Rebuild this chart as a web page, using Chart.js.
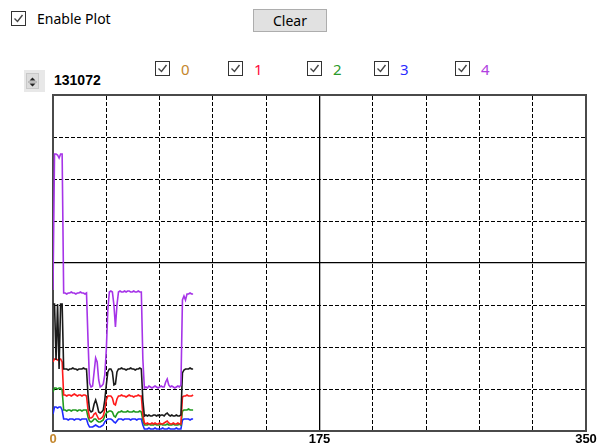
<!DOCTYPE html>
<html>
<head>
<meta charset="utf-8">
<title>Plot</title>
<script src="https://cdn.jsdelivr.net/npm/chart.js@4.4.1/dist/chart.umd.min.js"></script>
<style>
  html, body { margin: 0; padding: 0; background: #fff; }
  body { width: 600px; height: 447px; position: relative; overflow: hidden;
         font-family: 'Noto Sans', sans-serif; font-size: 14px; color: #000; }
  .cb { position: absolute; width: 13px; height: 13px; border: 1px solid #333; background: #fff; }
  .cb svg { position: absolute; left: 0; top: 0; }
  .lbl { position: absolute; line-height: 16px; white-space: nowrap; }
  .btn { position: absolute; box-sizing: border-box; background: #e1e1e1; border: 1px solid #adadad;
         text-align: center; line-height: 21px; }
  #spin { position: absolute; left: 24px; top: 70px; width: 21px; height: 22px; background: #e8e8e8; }
  #spin .b { position: absolute; left: 2px; top: 3px; width: 13px; height: 16px; background: #dcdcdc; border: 1px solid #c8c8c8; box-sizing: border-box; }
  #range { position: absolute; left: 54px; top: 72px; font: bold 14px 'Liberation Sans', Arial, sans-serif; }
  #plot { position: absolute; left: 0; top: 0; }
</style>
</head>
<body>
<div class="cb" style="left:11px;top:11px"></div>
<div class="lbl" style="left:37px;top:11px">Enable Plot</div>
<div class="btn" style="left:253px;top:9px;width:74px;height:23px">Clear</div>
<div id="spin"><div class="b">
  <svg width="11" height="14"><path d="M2.5 5.5 L5.5 2.5 L8.5 5.5 Z M2.5 8.5 L5.5 11.5 L8.5 8.5 Z" fill="#222"/><line x1="1" y1="7" x2="10" y2="7" stroke="#999"/></svg>
</div></div>
<div id="range">131072</div>
<div id="legend"></div>
<canvas id="plot" width="600" height="447"></canvas>

<script>
  // numéros d'échantillon (axe x)
  const sampleIdx = Array.from({ length: 93 }, (_, i) => i);
  const seriesNames = ['0', '1', '2', '3', '4'];
  const xTicks = [0, 175, 350];
  const yFull = 131072;

  // valeurs
  const ch0 = [49540, 49540, 27700, 49540, 24190, 49540, 49540, 24190,
    24190, 24190, 23800, 24190, 24190, 24580, 24190, 24190, 23800, 24190, 24190, 24190, 24580, 24190, 24190,
    14040, 8190, 7410, 7800, 10530, 12090, 10140, 7410, 7020, 7410, 8190, 12090, 17950, 23020, 24190, 24190, 23020, 17950, 18340, 23020, 24190,
    24190, 24580, 24190, 24190, 23800, 24190, 24190, 24580, 24190, 24190, 23800, 24190, 24190, 24580, 24190,
    12090, 5850,
    6240, 5850, 6240, 5850, 5850, 6240, 6240, 5850, 6240, 5850, 6240, 6240, 5850,
    6630, 7020, 6240,
    5850, 6240, 5850, 5850, 6240, 5850, 5850,
    6240, 22630, 23800, 24190,
    24190, 24190, 24580, 24190, 24190];
  const ch1 = [26920, 28090, 28090, 27700, 28090, 28090, 26920, 14040,
    14040, 13650, 14040, 14040, 13650, 14040, 14430, 14040, 13650, 14040, 14040, 13650, 14040, 14040, 13650,
    8190, 5070, 5070, 5460, 6630, 7020, 5850, 4680, 4680, 5070, 5850, 8190, 12090, 13650, 13650, 13650, 12870, 10530, 10140, 12480, 13650,
    13650, 14040, 13650, 13650, 13260, 13650, 14040, 13650, 13650, 13260, 13650, 13650, 14040, 13650, 13650,
    6240, 3120,
    2730, 3120, 2730, 2730, 3120, 2730, 3120, 2730, 2730, 3120, 2730, 2730, 3120,
    3510, 3900, 3120,
    2730, 2730, 3120, 2730, 2730, 3120, 2730, 2730,
    13260, 13650,
    13650, 14040, 13650, 13650, 13650, 14040];
  const ch2 = [15210, 16770, 16770, 16380, 16770, 16770, 15990, 8190,
    8190, 7800, 8190, 8190, 7800, 8190, 8190, 8190, 7800, 8190, 8190, 7800, 8190, 8190, 8190,
    5460, 3900, 3510, 3900, 4680, 4680, 3900, 3510, 3510, 3900, 4290, 5850, 7020, 7410, 7800, 7800, 7410, 5850, 5460, 6630, 7410,
    7410, 7800, 7410, 7410, 7410, 7800, 7410, 7410, 7410, 7800, 7410, 7410, 7410, 7800, 7410,
    4290, 2340,
    2340, 2340, 2730, 2340, 2340, 2340, 2730, 2340, 2340, 2340, 2730, 2340, 2340, 2340, 2730, 2340, 2340, 2340, 2730, 2340, 2340, 2340, 2730, 2340,
    7800, 8190,
    8190, 8190, 8580, 8190, 8190, 8190];
  const ch3 = [6630, 9360, 9360, 8970, 9360, 9360, 8190, 4680,
    4680, 4680, 4290, 4680, 4680, 4680, 4290, 4680, 4680, 4680, 4290, 4680, 4680, 4680, 4680,
    2730, 1560, 1560, 1560, 1950, 2340, 1950, 1560, 1560, 1950, 2340, 3510, 4290, 4680, 4680, 4680, 4290, 3510, 3120, 3900, 4680,
    4680, 4680, 4290, 4680, 4680, 4680, 4680, 4290, 4680, 4680, 4680, 4290, 4680, 4680, 4680,
    2340, 780,
    780, 780, 1170, 780, 780, 780, 1170, 780, 780, 780, 780, 1170, 780, 780, 780, 1170, 780, 780, 780, 780, 1170, 780, 780, 780,
    4290, 4680,
    4680, 4680, 4680, 4290, 4680, 4680];
  const ch4 = [55000, 108060, 108060, 107670, 106500, 108060, 108060, 53830,
    53830, 53440, 53830, 53830, 54220, 53830, 53830, 53440, 53830, 53830, 54220, 53830, 53830, 53440, 53830,
    35500, 18730, 17160, 17560, 23020, 28480, 26920, 19900, 17160, 17560, 18340, 21850, 31600, 47200, 54220, 54610, 54220, 49150, 40570, 49150, 54220,
    54610, 54220, 54220, 54610, 54220, 54610, 54610, 54220, 54220, 54610, 54220, 54220, 54610, 54220, 54220,
    28090, 16770,
    17160, 16770, 17560, 17160, 16770, 17160, 17560, 17160, 16770, 17160, 17560, 17160, 17160,
    19120, 20290, 17950,
    17160, 17560, 17160, 16770, 17160, 17560, 17160,
    17950, 51100, 52660, 51100, 53440, 53440, 53830, 53440, 53440];

  const lineColors = ['#1a1a1a', '#ff1a1a', '#1f9a1f', '#1f2bff', '#a634e8'];
  const labelColors = ['#c4862c', '#ff0a3c', '#2a9a2a', '#2b2bff', '#b040e0'];
  const legendLeft = [155, 228, 307, 374, 455];

  const checkSvg = '<svg width="13" height="13"><polyline points="2.5,6.5 5.5,9.5 10.5,3" fill="none" stroke="#444" stroke-width="1.4"/></svg>';
  document.querySelectorAll('.cb').forEach(el => { el.innerHTML = checkSvg; });

  // cases à cocher des voies
  const legend = document.getElementById('legend');
  seriesNames.forEach((name, i) => {
    legend.innerHTML += `
      <div class="cb" style="left:${legendLeft[i]}px;top:61px">${checkSvg}</div>
      <div class="lbl" style="left:${legendLeft[i] + 26}px;top:61px;font-size:15px;color:${labelColors[i]}">${name}</div>
    `;
  });

  const allSeries = [ch0, ch1, ch2, ch3, ch4];
  const ctx = document.getElementById('plot');

  new Chart(ctx, {
    type: 'line',
    data: {
      labels: sampleIdx,
      datasets: allSeries.map((values, i) => ({
        label: seriesNames[i],
        data: values,
        borderColor: lineColors[i],
        borderWidth: 1.6,
        pointRadius: 0,
        tension: 0,
        fill: false,
        xAxisID: 'x',
        yAxisID: 'y',
        order: i === 4 ? 0 : i + 1
      }))
    },
    options: {
      responsive: false,
      animation: false,
      layout: { padding: { left: 53, right: 14, top: 95, bottom: 0 } },
      plugins: {
        legend: { display: false },
        tooltip: { enabled: false }
      },
      scales: {
        x: {
          type: 'linear',
          position: 'bottom',
          min: 0,
          max: 350,
          afterBuildTicks: scale => { scale.ticks = xTicks.map(v => ({ value: v })); },
          afterFit: scale => { scale.height = 16; },
          ticks: {
            autoSkip: false,
            maxRotation: 0,
            padding: 1,
            color: c => (c.tick && c.tick.value === 0) ? labelColors[0] : '#000',
            font: { family: "'Liberation Sans', Arial, sans-serif", size: 13, weight: 'bold' }
          },
          grid: { color: '#000', lineWidth: 1.3, drawTicks: false },
          border: { color: '#4a4a4a', width: 2 }
        },
        xg: {
          type: 'linear',
          position: 'top',
          min: 0,
          max: 350,
          ticks: { display: false, stepSize: 35 },
          grid: {
            color: c => (c.tick && c.tick.value % 175 === 0) ? 'rgba(0,0,0,0)' : '#000',
            lineWidth: 1,
            drawTicks: false
          },
          border: { display: true, color: '#4a4a4a', width: 2, dash: [4, 2] }
        },
        y: {
          type: 'linear',
          position: 'left',
          min: 0,
          max: yFull,
          ticks: { display: false, stepSize: yFull / 2 },
          grid: { color: '#000', lineWidth: 1.3, drawTicks: false },
          border: { color: '#4a4a4a', width: 2 }
        },
        yg: {
          type: 'linear',
          position: 'right',
          min: 0,
          max: yFull,
          ticks: { display: false, stepSize: yFull / 8 },
          grid: {
            color: c => (c.tick && c.tick.value % (yFull / 2) === 0) ? 'rgba(0,0,0,0)' : '#000',
            lineWidth: 1,
            drawTicks: false
          },
          border: { display: true, color: '#4a4a4a', width: 2, dash: [4, 2] }
        }
      }
    }
  });
</script>
</body>
</html>
